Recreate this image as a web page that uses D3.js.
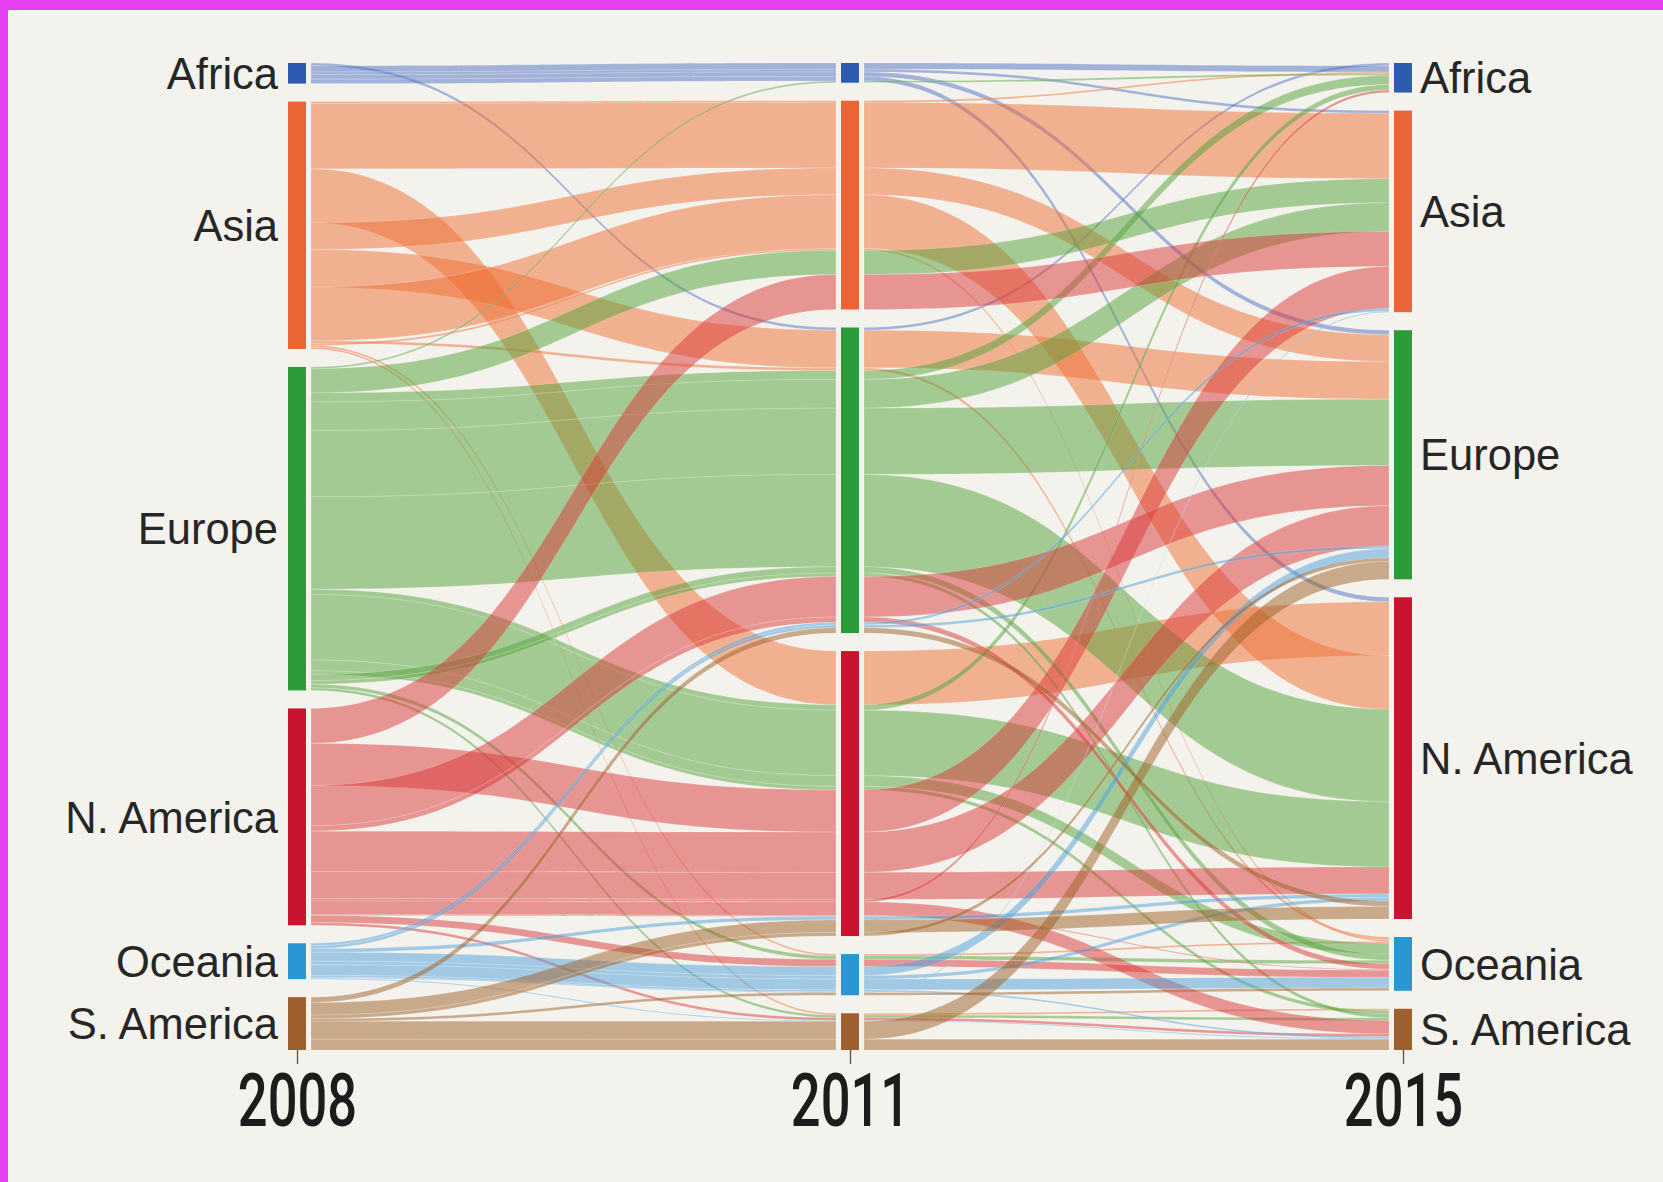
<!DOCTYPE html>
<html>
<head>
<meta charset="utf-8">
<title>Regions 2008 - 2011 - 2015</title>
<script src="https://d3js.org/d3.v7.min.js"></script>
<style>
  body { margin: 0; background: #f3f2ec; }
  svg { display: block; }
  .label { font-family: "Liberation Sans", Arial, sans-serif; font-size: 43.5px; fill: #262626; }
</style>
</head>
<body>
<div id="chart"></div>
<script>
// regions, top to bottom in each column
const regions = ["Africa", "Asia", "Europe", "N. America", "Oceania", "S. America"];
const years = ["2008", "2011", "2015"];

// colours of the node bars and of the ribbons (by 2008 region)
const barColors = ["#2d5bb0", "#ea6535", "#2e9b3a", "#c8142f", "#2a97d2", "#a0602e"];
const ribbonColors = ["#4f6fc4", "#ef6e34", "#56a23a", "#da3838", "#4fa0dc", "#9d5f25"];

// each path: [region in 2008, region in 2011, region in 2015, share %]
// order inside a region is the order of this list
const paths = [
  ["Africa", "Europe", "Africa", 0.3],
  ["Africa", "Africa", "Africa", 0.7],
  ["Africa", "Africa", "Asia", 0.3],
  ["Africa", "Africa", "Europe", 0.5],
  ["Africa", "Africa", "N. America", 0.5],

  ["Asia", "Asia", "Africa", 0.2],
  ["Asia", "Asia", "Asia", 7.3],
  ["Asia", "N. America", "N. America", 6.0],
  ["Asia", "Asia", "Europe", 3.0],
  ["Asia", "Europe", "Europe", 4.2],
  ["Asia", "Asia", "N. America", 6.0],
  ["Asia", "Europe", "Oceania", 0.3],
  ["Asia", "Asia", "Oceania", 0.2],
  ["Asia", "Oceania", "Oceania", 0.2],
  ["Asia", "S. America", "S. America", 0.2],

  ["Europe", "Africa", "Africa", 0.2],
  ["Europe", "Asia", "Asia", 2.7],
  ["Europe", "Europe", "Africa", 1.0],
  ["Europe", "Europe", "Asia", 3.2],
  ["Europe", "Europe", "Europe", 7.4],
  ["Europe", "Europe", "N. America", 10.3],
  ["Europe", "N. America", "Africa", 0.6],
  ["Europe", "N. America", "N. America", 7.3],
  ["Europe", "N. America", "Oceania", 1.2],
  ["Europe", "N. America", "S. America", 0.4],
  ["Europe", "Europe", "Oceania", 0.7],
  ["Europe", "Europe", "S. America", 0.4],
  ["Europe", "Oceania", "Oceania", 0.4],
  ["Europe", "S. America", "S. America", 0.3],

  ["N. America", "Asia", "Asia", 3.9],
  ["N. America", "N. America", "Asia", 4.7],
  ["N. America", "Europe", "Europe", 4.5],
  ["N. America", "Europe", "Oceania", 0.6],
  ["N. America", "N. America", "Europe", 4.5],
  ["N. America", "N. America", "N. America", 3.0],
  ["N. America", "N. America", "Africa", 0.3],
  ["N. America", "N. America", "S. America", 1.5],
  ["N. America", "N. America", "Oceania", 0.1],
  ["N. America", "Oceania", "Oceania", 0.8],
  ["N. America", "S. America", "S. America", 0.3],

  ["Oceania", "Europe", "Asia", 0.3],
  ["Oceania", "Europe", "Europe", 0.3],
  ["Oceania", "N. America", "N. America", 0.4],
  ["Oceania", "Oceania", "Europe", 1.0],
  ["Oceania", "Oceania", "N. America", 0.4],
  ["Oceania", "Oceania", "Oceania", 1.2],
  ["Oceania", "Oceania", "S. America", 0.2],
  ["Oceania", "Oceania", "Asia", 0.1],
  ["Oceania", "S. America", "S. America", 0.1],

  ["S. America", "Europe", "N. America", 0.6],
  ["S. America", "N. America", "N. America", 1.4],
  ["S. America", "N. America", "Europe", 0.4],
  ["S. America", "Oceania", "Oceania", 0.3],
  ["S. America", "S. America", "Europe", 2.0],
  ["S. America", "S. America", "S. America", 1.2]
];

const width = 1663, height = 1182;
const plotTop = 63, plotBottom = 1050, gap = 18, barW = 18, pad = 5;

const svg = d3.select("#chart")
  .append("svg")
    .attr("width", width)
    .attr("height", height);

// frame
svg.append("rect").attr("width", width).attr("height", height).attr("fill", "#e63ff2");
svg.append("rect").attr("x", 8).attr("y", 10).attr("width", width - 8).attr("height", height - 10)
  .attr("fill", "#f3f2ec");

const x = d3.scalePoint().domain(years).range([297, 1403]);

const total = d3.sum(paths, d => d[3]);
const h = d3.scaleLinear()
  .domain([0, total])
  .range([0, plotBottom - plotTop - gap * (regions.length - 1)]);

const color = d3.scaleOrdinal().domain(regions).range(ribbonColors);
const barColor = d3.scaleOrdinal().domain(regions).range(barColors);

// node extents and ribbon slots per column
const nodes = [];
const slots = paths.map(() => []);
years.forEach((yr, col) => {
  let cum = 0;
  regions.forEach((r, i) => {
    const members = paths.map((p, j) => j).filter(j => paths[j][col] === r);
    if (col > 0) {
      members.sort((a, b) =>
        (regions.indexOf(paths[a][0]) - regions.indexOf(paths[b][0])) || (a - b));
    }
    const value = d3.sum(members, j => paths[j][3]);
    const y0 = plotTop + h(cum) + i * gap;
    let y = y0;
    members.forEach(j => {
      const t = h(paths[j][3]);
      slots[j][col] = [y, y + t];
      y += t;
    });
    nodes.push({year: yr, region: r, y0: y0, y1: y0 + h(value)});
    cum += value;
  });
});

function ribbon(xa, a, xb, b) {
  const xm = (xa + xb) / 2;
  const p = d3.path();
  p.moveTo(xa, a[0]);
  p.bezierCurveTo(xm, a[0], xm, b[0], xb, b[0]);
  p.lineTo(xb, b[1]);
  p.bezierCurveTo(xm, b[1], xm, a[1], xa, a[1]);
  p.closePath();
  return p.toString();
}

const ribbons = svg.append("g")
  .attr("fill-opacity", 0.5)
  .attr("stroke", "#ffffff")
  .attr("stroke-opacity", 0.25)
  .attr("stroke-width", 0.7);
[0, 1].forEach(seg => {
  const xa = x(years[seg]) + barW / 2 + pad;
  const xb = x(years[seg + 1]) - barW / 2 - pad;
  ribbons.selectAll(null)
    .data(paths.map((p, j) => j))
    .join("path")
      .attr("d", j => ribbon(xa, slots[j][seg], xb, slots[j][seg + 1]))
      .attr("fill", j => color(paths[j][0]));
});

// node bars
svg.append("g")
  .selectAll("rect")
  .data(nodes)
  .join("rect")
    .attr("x", d => x(d.year) - barW / 2)
    .attr("y", d => d.y0)
    .attr("width", barW)
    .attr("height", d => d.y1 - d.y0)
    .attr("fill", d => barColor(d.region));

// region labels
svg.append("g")
  .selectAll("text")
  .data(nodes.filter(d => d.year === years[0]))
  .join("text")
    .attr("class", "label")
    .attr("x", d => x(d.year) - barW / 2 - 10)
    .attr("y", d => (d.y0 + d.y1) / 2)
    .attr("dy", "0.36em")
    .attr("text-anchor", "end")
    .text(d => d.region);

svg.append("g")
  .selectAll("text")
  .data(nodes.filter(d => d.year === years[2]))
  .join("text")
    .attr("class", "label")
    .attr("x", d => x(d.year) + barW / 2 + 8)
    .attr("y", d => (d.y0 + d.y1) / 2)
    .attr("dy", "0.36em")
    .text(d => d.region);

// year axis
const axis = svg.append("g")
  .attr("transform", `translate(0,${plotBottom})`)
  .call(d3.axisBottom(x).tickSize(14).tickPadding(9));
axis.select(".domain").remove();
axis.selectAll(".tick line").attr("stroke", "#555").attr("stroke-width", 1.3);
axis.selectAll(".tick text")
  .attr("transform", "scale(0.7,1)")
  .attr("fill", "#1c1c1c")
  .style("font-family", "Roboto, 'Liberation Sans', sans-serif")
  .style("font-weight", 500)
  .style("font-size", "75px");
</script>
</body>
</html>
